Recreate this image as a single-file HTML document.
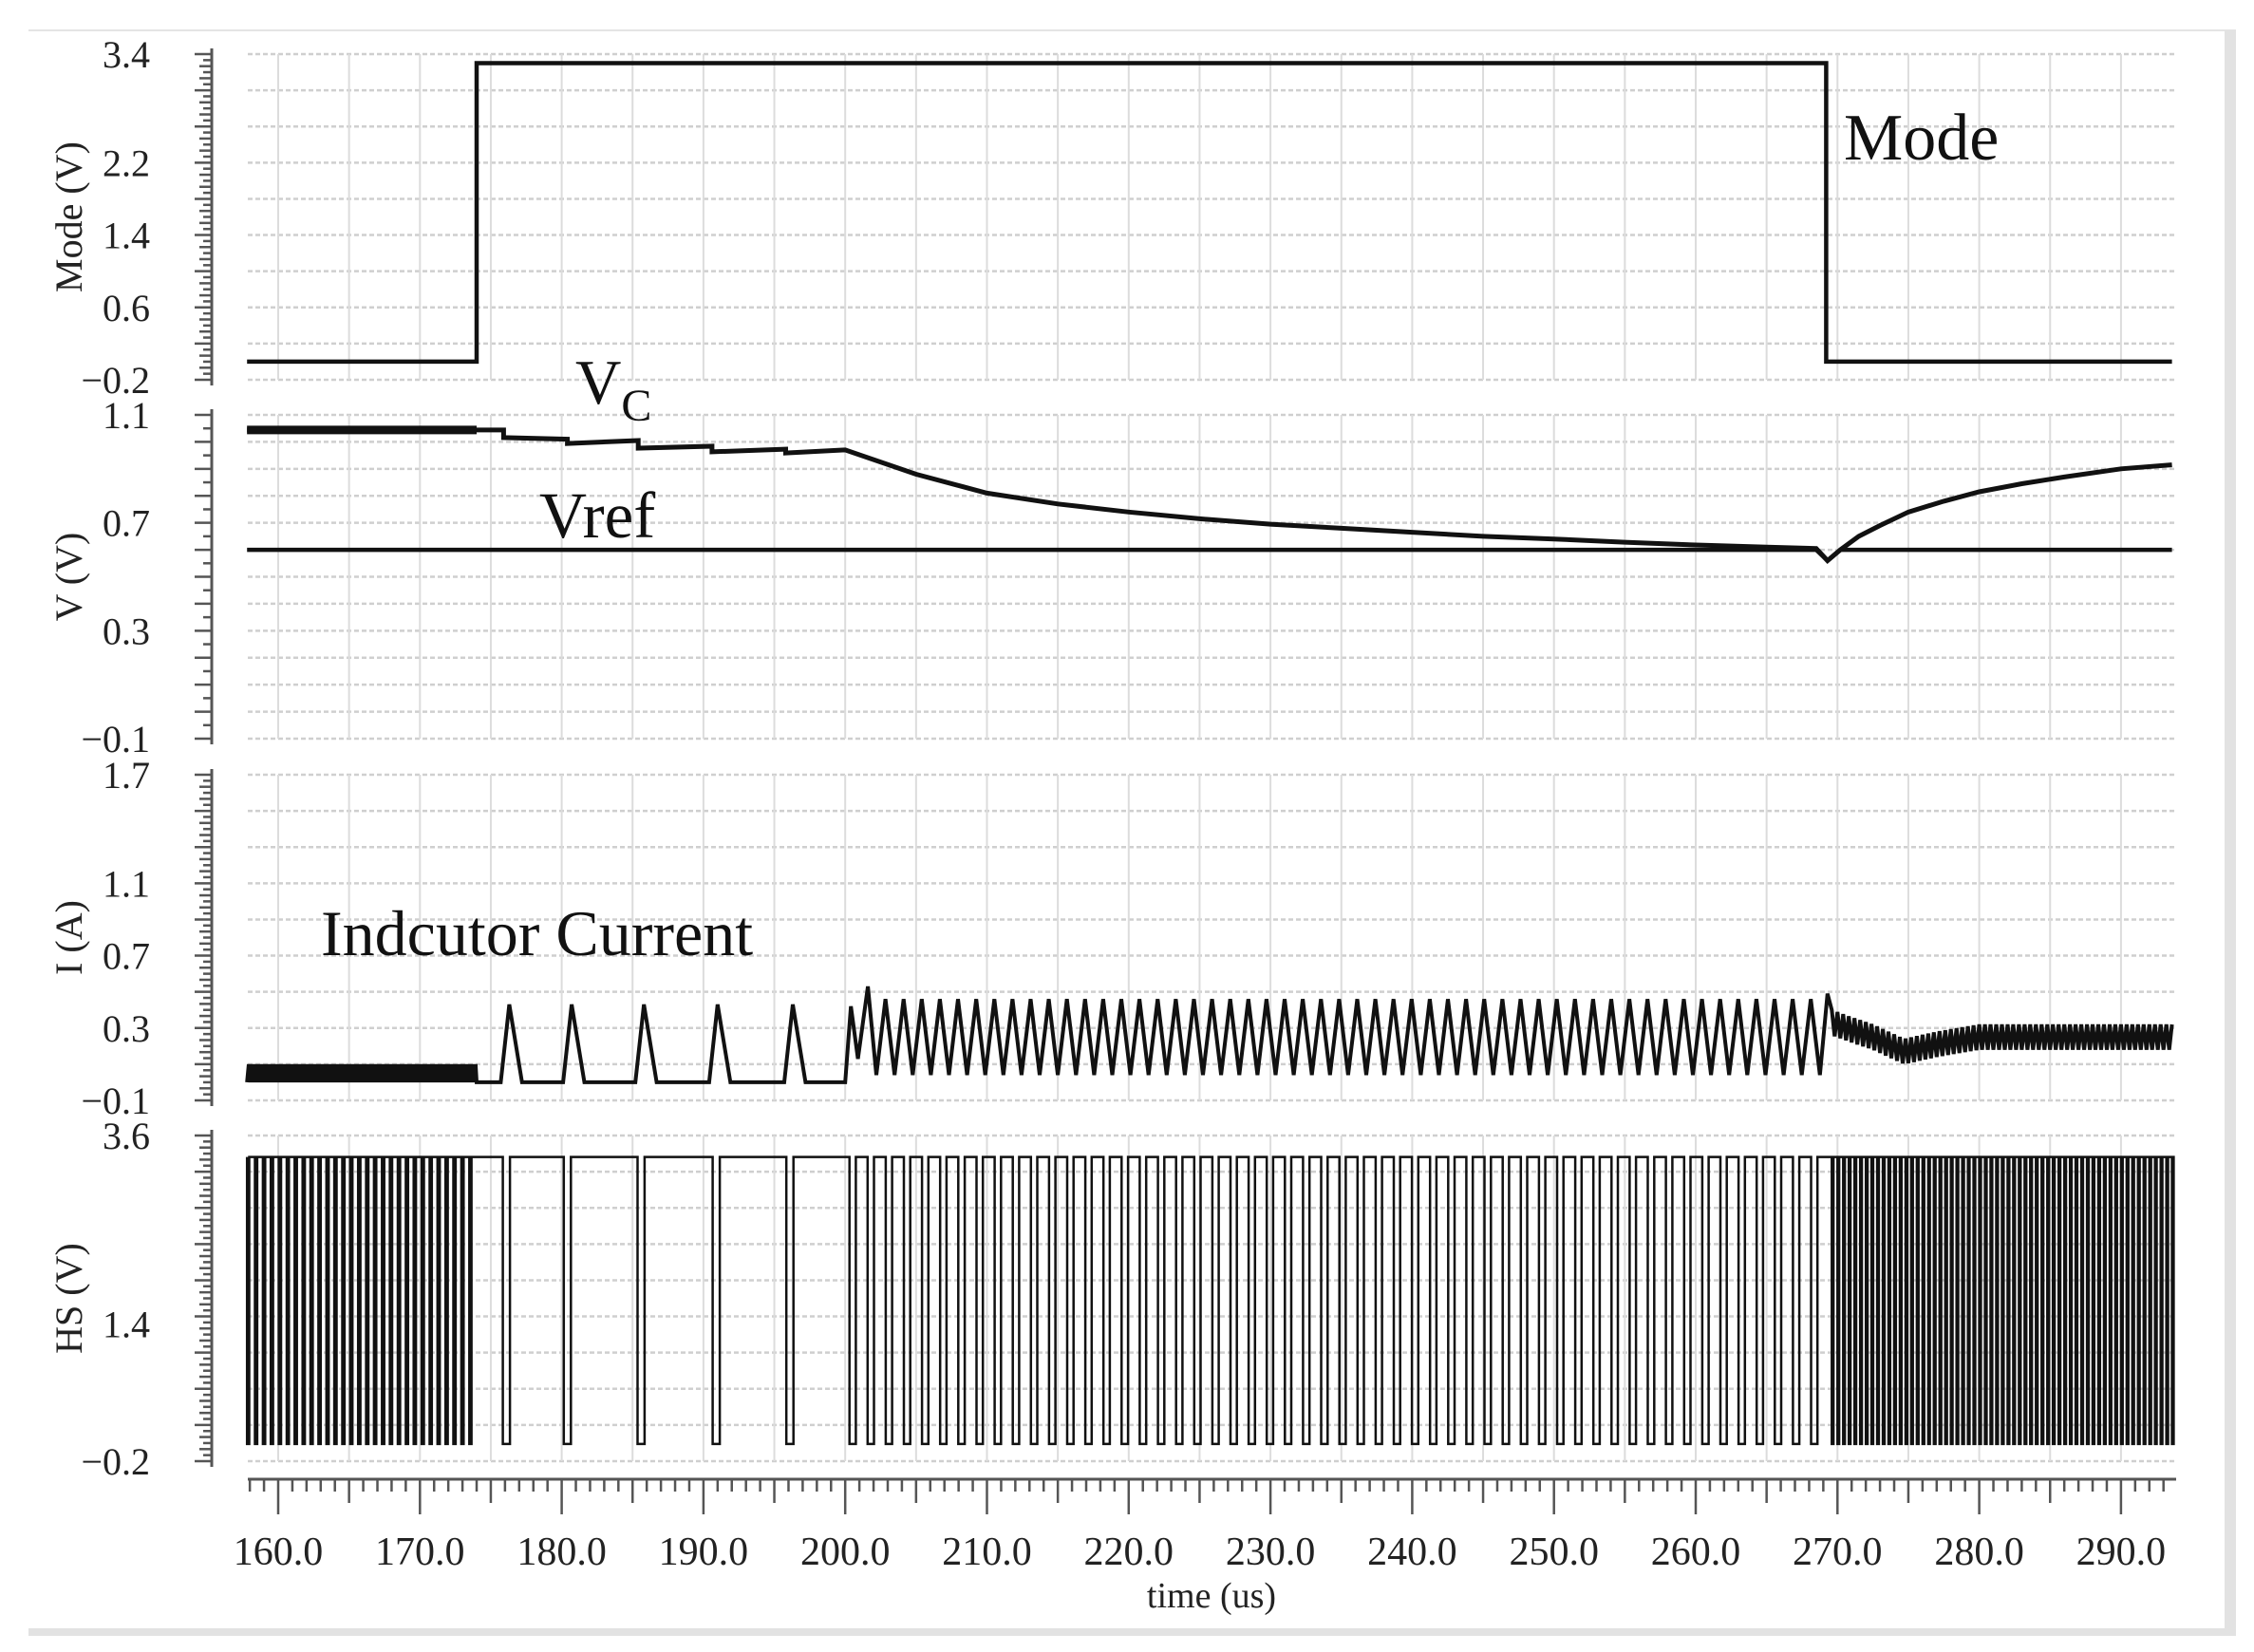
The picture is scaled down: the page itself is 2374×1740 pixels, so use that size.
<!DOCTYPE html>
<html><head><meta charset="utf-8"><style>
html,body{margin:0;padding:0;background:#fff;}
svg{display:block;font-family:"Liberation Serif",serif;}
</style></head><body>
<svg id="chart" width="2374" height="1740" viewBox="0 0 2374 1740" xmlns="http://www.w3.org/2000/svg">
<rect x="0" y="0" width="2374" height="1740" fill="#fff"/>
<line x1="30" y1="32" x2="2355" y2="32" stroke="#e4e4e4" stroke-width="2"/>
<rect x="30" y="1715" width="2325" height="8" fill="#e2e2e2"/>
<rect x="2343" y="32" width="12" height="1691" fill="#e2e2e2"/>
<g id="grid"></g><g id="axes"></g><g id="traces"></g>
<text x="1942" y="168" font-size="70" fill="#111">Mode</text>
<text x="606" y="425" font-size="67" fill="#111">V<tspan font-size="48" dy="18">C</tspan></text>
<text x="568" y="566" font-size="69" fill="#111">Vref</text>
<text x="338" y="1006" font-size="68" fill="#111">Indcutor Current</text>
<text x="1276" y="1693" font-size="38" text-anchor="middle" fill="#222">time (us)</text>
</svg>
<script>
// ---- data ----
const xTicks=[160,170,180,190,200,210,220,230,240,250,260,270,280,290];
const modeT=[157.8,174.0,174.0,269.2,269.2,293.6];
const modeV=[0,0,3.3,3.3,0,0];
const vcT=[157.8,174.0,175.9,175.9,180.4,180.4,185.4,185.4,190.6,190.6,195.8,195.8,200,205,210,215,220,225,230,235,240,245,250,255,260,265,268.5,269.3,270.2,271.5,273,275,277.5,280,283,286,290,293.6];
const vcV=[1.044,1.044,1.044,1.016,1.01,0.994,1.005,0.977,0.984,0.963,0.973,0.959,0.97,0.88,0.81,0.77,0.74,0.715,0.695,0.68,0.665,0.65,0.64,0.628,0.618,0.61,0.605,0.56,0.6,0.65,0.69,0.74,0.78,0.815,0.845,0.87,0.9,0.915];
const vrefT=[157.8,268.5,269.3,270.2,293.6];
const vrefV=[0.6,0.6,0.56,0.6,0.6];
const ilRipT=[157.8,174.0]; const ilRipLo=0.0, ilRipHi=0.1, ilRipPeriod=0.25;
const ilPulseT=[176.3,180.7,185.8,191.0,196.3]; const ilPulsePeak=0.43, ilPulseRise=0.6, ilPulseFall=0.9;
const ilTransT=[200.0,200.4,200.9,201.6,202.2];
const ilTransV=[0,0.42,0.13,0.53,0.04];
const ilTriStart=202.2, ilTriEnd=269.3, ilTriPeriod=1.28, ilTriLo=0.04, ilTriHi=0.46, ilTriLast=0.49;
const ilEnvT=[269.6,271,272.5,274.7,277,280,293.6];
const ilEnvC=[0.33,0.29,0.25,0.17,0.21,0.25,0.25];
const ilEnvAmp=0.07, ilEnvPeriod=0.4;
const hsHi=3.35, hsLo=0.0;
const hsSegStart=[157.8,200.3,269.6];
const hsSegEnd=[174.0,269.3,293.6];
const hsSegPeriod=[0.56,1.28,0.4];
const hsSegLow=[0.16,0.45,0.12];
const hsPulseT=[176.1,180.4,185.6,190.9,196.1]; const hsPulseW=0.5;

// ---- layout ----
const X0=261,X1=2292;
function xs(t){return 293+(t-160)*14.93;}
const panels=[
 {name:'mode',top:57,bot:400,min:-0.2,max:3.4,div:9,minor:6,labels:[3.4,2.2,1.4,0.6,-0.2],title:'Mode (V)'},
 {name:'voltage',top:437,bot:778,min:-0.1,max:1.1,div:12,minor:2,labels:[1.1,0.7,0.3,-0.1],title:'V (V)'},
 {name:'current',top:816,bot:1159,min:-0.1,max:1.7,div:9,minor:6,labels:[1.7,1.1,0.7,0.3,-0.1],title:'I (A)'},
 {name:'hs',top:1196,bot:1539,min:-0.2,max:3.6,div:9,minor:6,labels:[3.6,1.4,-0.2],title:'HS (V)'}
];
function ys(p,v){return p.bot-(v-p.min)/(p.max-p.min)*(p.bot-p.top);}
const NS='http://www.w3.org/2000/svg';
function mk(tag,attrs,parent){const e=document.createElementNS(NS,tag);for(const k in attrs)e.setAttribute(k,attrs[k]);parent.appendChild(e);return e;}
const grid=document.getElementById('grid'),axes=document.getElementById('axes'),traces=document.getElementById('traces');

panels.forEach(p=>{
  for(let i=0;i<=p.div;i++){const y=p.top+(p.bot-p.top)*i/p.div;
    const l=mk('line',{x1:X0,y1:y,x2:X1,y2:y,stroke:'#cfcfcf','stroke-width':2.5,'stroke-dasharray':'5 3'},grid);
    
    }
  for(let t=160;t<=290;t+=5){const x=xs(t);
    const l=mk('line',{x1:x,y1:p.top,x2:x,y2:p.bot,stroke:'#dcdcdc','stroke-width':2},grid);
    
    }
  const ax=mk('line',{x1:223,y1:p.top-6,x2:223,y2:p.bot+6,stroke:'#555','stroke-width':3},axes);
  
  
  const n=p.div*p.minor;
  for(let i=0;i<=n;i++){const y=p.top+(p.bot-p.top)*i/n;const len=(i%p.minor===0)?18:(i%2===0?13:9);
    const tk=mk('line',{x1:223-len,y1:y,x2:223,y2:y,stroke:'#555','stroke-width':2.5},axes);
    
    }
  p.labels.forEach(v=>{const tx=mk('text',{x:158,y:ys(p,v)+14,'font-size':40,'text-anchor':'end',fill:'#222'},axes);
    tx.textContent=(v<0?'\u2212':'')+Math.abs(v).toFixed(1);
    
    });
  const cy=(p.top+p.bot)/2;
  const tt=mk('text',{x:86,y:cy,'font-size':40,'text-anchor':'middle',fill:'#222',transform:'rotate(-90 86 '+cy+')'},axes);
  tt.textContent=p.title;
  
  
});
const xa=mk('line',{x1:X0,y1:1558,x2:X1,y2:1558,stroke:'#555','stroke-width':3},axes);


for(let t=158;t<=293;t++){const x=xs(t);const len=(t%10===0)?37:(t%5===0?25:13);
  const tk=mk('line',{x1:x,y1:1558,x2:x,y2:1558+len,stroke:'#555','stroke-width':2.5},axes);
  
  }
xTicks.forEach(t=>{const tx=mk('text',{x:xs(t),y:1648,'font-size':42,'text-anchor':'middle',fill:'#222'},axes);
  tx.textContent=t.toFixed(1);
  
  });

function path(p,T,V,name,w){let d='';for(let i=0;i<T.length;i++)d+=(i?'L':'M')+xs(T[i]).toFixed(1)+','+ys(p,V[i]).toFixed(1);
  const e=mk('path',{d:d,fill:'none',stroke:'#111','stroke-width':w,'stroke-linejoin':'miter'},traces);
  
  return e;}
const P=panels;
path(P[0],modeT,modeV,'mode-trace',4.5);
path(P[1],vcT,vcV,'vc-trace',5);
const vcr=mk('line',{x1:xs(vcT[0]),y1:ys(P[1],vcV[0]),x2:xs(vcT[1]),y2:ys(P[1],vcV[1]),stroke:'#111','stroke-width':9},traces);


path(P[1],vrefT,vrefV,'vref-trace',4.5);
(function(){const T=[],V=[];
  for(let t=ilRipT[0];t<ilRipT[1];t+=ilRipPeriod){T.push(t,t+ilRipPeriod/2);V.push(ilRipLo,ilRipHi);}
  T.push(ilRipT[1]);V.push(0);
  ilPulseT.forEach(tp=>{T.push(tp-ilPulseRise,tp,tp+ilPulseFall);V.push(0,ilPulsePeak,0);});
  for(let i=0;i<ilTransT.length;i++){T.push(ilTransT[i]);V.push(ilTransV[i]);}
  for(let t=ilTriStart+ilTriPeriod/2;t<ilTriEnd-0.2;t+=ilTriPeriod){T.push(t,t+ilTriPeriod/2);V.push(ilTriHi,ilTriLo);}
  T.push(ilTriEnd);V.push(ilTriLast);
  let k=0,s=1;
  for(let t=ilEnvT[0];t<ilEnvT[ilEnvT.length-1];t+=ilEnvPeriod/2){while(k<ilEnvT.length-2&&t>ilEnvT[k+1])k++;
    const f=(t-ilEnvT[k])/(ilEnvT[k+1]-ilEnvT[k]);const c=ilEnvC[k]+(ilEnvC[k+1]-ilEnvC[k])*f;
    T.push(t);V.push(c+s*ilEnvAmp);s=-s;}
  path(P[2],T,V,'inductor-current-trace',4);})();
(function(){const T=[],V=[];
  function low(a,b){T.push(a,a,b,b);V.push(hsHi,hsLo,hsLo,hsHi);}
  T.push(hsSegStart[0]);V.push(hsHi);
  for(let t=hsSegStart[0];t<hsSegEnd[0];t+=hsSegPeriod[0])low(t,t+hsSegLow[0]);
  hsPulseT.forEach(tp=>low(tp-hsPulseW/2,tp+hsPulseW/2));
  for(let s=1;s<hsSegStart.length;s++)
    for(let t=hsSegStart[s];t<hsSegEnd[s];t+=hsSegPeriod[s])low(t,t+hsSegLow[s]);
  T.push(hsSegEnd[hsSegEnd.length-1]);V.push(hsHi);
  path(P[3],T,V,'hs-trace',2.5);})();
</script>
</body></html>
